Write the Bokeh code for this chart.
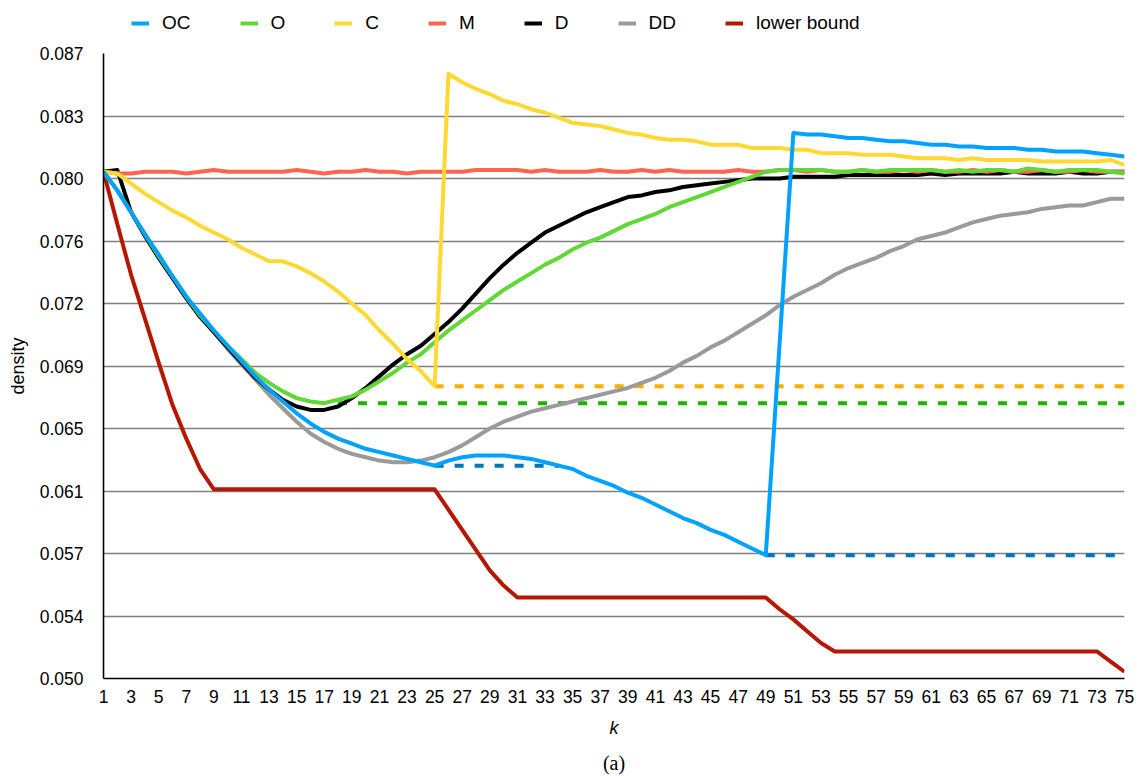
import math
from bokeh.plotting import figure
from bokeh.layouts import column
from bokeh.models import Range1d, FixedTicker, Legend, LegendItem, Label
from bokeh.embed import file_html
from bokeh.resources import INLINE

NaN = float("nan")

k = list(range(1, 76))

oc = [0.0800, 0.0789, 0.0776, 0.0763, 0.0751, 0.0738, 0.0726, 0.0716, 0.0706, 0.0697,
      0.0688, 0.0679, 0.0671, 0.0664, 0.0657, 0.0651, 0.0646, 0.0642, 0.0639, 0.0636,
      0.0634, 0.0632, 0.0630, 0.0628, 0.0626, 0.0629, 0.0631, 0.0632, 0.0632, 0.0632,
      0.0631, 0.0630, 0.0628, 0.0626, 0.0624, 0.0620, 0.0617, 0.0614, 0.0610, 0.0607,
      0.0603, 0.0599, 0.0595, 0.0592, 0.0588, 0.0585, 0.0581, 0.0577, 0.0573, 0.0698,
      0.0823, 0.0822, 0.0822, 0.0821, 0.0820, 0.0820, 0.0819, 0.0818, 0.0818, 0.0817,
      0.0816, 0.0816, 0.0815, 0.0815, 0.0814, 0.0814, 0.0814, 0.0813, 0.0813, 0.0812,
      0.0812, 0.0812, 0.0811, 0.0810, 0.0809]

o = [0.0800, 0.0789, 0.0776, 0.0763, 0.0750, 0.0738, 0.0726, 0.0715, 0.0706, 0.0697,
     0.0689, 0.0681, 0.0675, 0.0670, 0.0666, 0.0664, 0.0663, 0.0665, 0.0667, 0.0671,
     0.0676, 0.0681, 0.0687, 0.0692, 0.0699, 0.0706, 0.0712, 0.0718, 0.0724, 0.0730,
     0.0735, 0.0740, 0.0745, 0.0749, 0.0754, 0.0758, 0.0761, 0.0765, 0.0769, 0.0772,
     0.0775, 0.0779, 0.0782, 0.0785, 0.0788, 0.0791, 0.0794, 0.0797, 0.0800, 0.0801,
     0.0801, 0.0801, 0.0801, 0.0800, 0.0800, 0.0801, 0.0800, 0.0801, 0.0801, 0.0801,
     0.0801, 0.0800, 0.0801, 0.0800, 0.0801, 0.0801, 0.0800, 0.0802, 0.0801, 0.0800,
     0.0801, 0.0801, 0.0801, 0.0800, 0.0799]

c = [0.0800, 0.0799, 0.0793, 0.0787, 0.0782, 0.0777, 0.0773, 0.0768, 0.0764, 0.0760,
     0.0755, 0.0751, 0.0747, 0.0747, 0.0744, 0.0740, 0.0735, 0.0729, 0.0722, 0.0715,
     0.0706, 0.0698, 0.0689, 0.0682, 0.0673, 0.0858, 0.0853, 0.0849, 0.0846, 0.0842,
     0.0840, 0.0837, 0.0835, 0.0832, 0.0829, 0.0828, 0.0827, 0.0825, 0.0823, 0.0822,
     0.0820, 0.0819, 0.0819, 0.0818, 0.0816, 0.0816, 0.0816, 0.0814, 0.0814, 0.0814,
     0.0813, 0.0813, 0.0811, 0.0811, 0.0811, 0.0810, 0.0810, 0.0810, 0.0809, 0.0808,
     0.0808, 0.0808, 0.0807, 0.0808, 0.0807, 0.0807, 0.0807, 0.0807, 0.0806, 0.0806,
     0.0806, 0.0806, 0.0806, 0.0807, 0.0804]

m = [0.0800, 0.0799, 0.0799, 0.0800, 0.0800, 0.0800, 0.0799, 0.0800, 0.0801, 0.0800,
     0.0800, 0.0800, 0.0800, 0.0800, 0.0801, 0.0800, 0.0799, 0.0800, 0.0800, 0.0801,
     0.0800, 0.0800, 0.0799, 0.0800, 0.0800, 0.0800, 0.0800, 0.0801, 0.0801, 0.0801,
     0.0801, 0.0800, 0.0801, 0.0800, 0.0800, 0.0800, 0.0801, 0.0800, 0.0800, 0.0801,
     0.0800, 0.0801, 0.0800, 0.0800, 0.0800, 0.0800, 0.0801, 0.0800, 0.0800, 0.0801,
     0.0801, 0.0800, 0.0801, 0.0800, 0.0800, 0.0801, 0.0800, 0.0800, 0.0801, 0.0800,
     0.0801, 0.0800, 0.0800, 0.0801, 0.0800, 0.0801, 0.0800, 0.0800, 0.0801, 0.0800,
     0.0800, 0.0801, 0.0800, 0.0800, 0.0800]

d = [0.0800, 0.0801, 0.0776, 0.0762, 0.0749, 0.0737, 0.0725, 0.0714, 0.0705, 0.0696,
     0.0687, 0.0678, 0.0671, 0.0665, 0.0661, 0.0659, 0.0659, 0.0661, 0.0666, 0.0672,
     0.0679, 0.0686, 0.0692, 0.0697, 0.0704, 0.0711, 0.0719, 0.0728, 0.0737, 0.0745,
     0.0752, 0.0758, 0.0764, 0.0768, 0.0772, 0.0776, 0.0779, 0.0782, 0.0785, 0.0786,
     0.0788, 0.0789, 0.0791, 0.0792, 0.0793, 0.0794, 0.0795, 0.0796, 0.0796, 0.0796,
     0.0797, 0.0797, 0.0797, 0.0797, 0.0798, 0.0798, 0.0798, 0.0798, 0.0798, 0.0798,
     0.0799, 0.0798, 0.0799, 0.0799, 0.0799, 0.0799, 0.0800, 0.0799, 0.0799, 0.0799,
     0.0800, 0.0799, 0.0799, 0.0800, 0.0800]

dd = [0.0800, 0.0789, 0.0776, 0.0763, 0.0750, 0.0738, 0.0726, 0.0715, 0.0705, 0.0695,
      0.0686, 0.0677, 0.0668, 0.0660, 0.0652, 0.0645, 0.0640, 0.0636, 0.0633, 0.0631,
      0.0629, 0.0628, 0.0628, 0.0629, 0.0631, 0.0634, 0.0638, 0.0643, 0.0648, 0.0652,
      0.0655, 0.0658, 0.0660, 0.0662, 0.0664, 0.0666, 0.0668, 0.0670, 0.0672, 0.0675,
      0.0678, 0.0682, 0.0687, 0.0691, 0.0696, 0.0700, 0.0705, 0.0710, 0.0715, 0.0721,
      0.0726, 0.0730, 0.0734, 0.0739, 0.0743, 0.0746, 0.0749, 0.0753, 0.0756, 0.0760,
      0.0762, 0.0764, 0.0767, 0.0770, 0.0772, 0.0774, 0.0775, 0.0776, 0.0778, 0.0779,
      0.0780, 0.0780, 0.0782, 0.0784, 0.0784]

lower_bound = [0.0800, 0.0769, 0.0739, 0.0713, 0.0687, 0.0662, 0.0642, 0.0624, 0.0612, 0.0612,
               0.0612, 0.0612, 0.0612, 0.0612, 0.0612, 0.0612, 0.0612, 0.0612, 0.0612, 0.0612,
               0.0612, 0.0612, 0.0612, 0.0612, 0.0612, 0.0600, 0.0588, 0.0576, 0.0564, 0.0555,
               0.0548, 0.0548, 0.0548, 0.0548, 0.0548, 0.0548, 0.0548, 0.0548, 0.0548, 0.0548,
               0.0548, 0.0548, 0.0548, 0.0548, 0.0548, 0.0548, 0.0548, 0.0548, 0.0548, 0.0541,
               0.0535, 0.0528, 0.0521, 0.0516, 0.0516, 0.0516, 0.0516, 0.0516, 0.0516, 0.0516,
               0.0516, 0.0516, 0.0516, 0.0516, 0.0516, 0.0516, 0.0516, 0.0516, 0.0516, 0.0516,
               0.0516, 0.0516, 0.0516, 0.0510, 0.0504]

# best-so-far (dashed) series; NaN where not drawn
oc_best = [NaN] * 24 + [0.0626] * 10 + [NaN] * 14 + [0.0573] * 27
o_best = [NaN] * 17 + [0.0663] * 58
c_best = [NaN] * 24 + [0.0673] * 51

series_names = ["OC", "O", "C", "M", "D", "DD", "lower bound"]
series_colors = ["#00A2FF", "#61D836", "#FFD932", "#FF644E", "#000000", "#9A9A9A", "#B51700"]
series_values = [oc, o, c, m, d, dd, lower_bound]

y_ticks = [0.050, 0.0537, 0.0574, 0.0611, 0.0648, 0.0685, 0.0722, 0.0759, 0.0796, 0.0833, 0.087]
y_tick_labels = ["0.050", "0.054", "0.057", "0.061", "0.065", "0.069", "0.072", "0.076",
                 "0.080", "0.083", "0.087"]
x_ticks = list(range(1, 76, 2))

FONT = "Liberation Sans"
W = 1136
BL, BR = 103, 12   # left/right borders shared by the three stacked strips

# ---------------- main chart ----------------
p = figure(width=W, height=700, output_backend="svg", toolbar_location=None,
           x_range=Range1d(1, 75), y_range=Range1d(0.050, 0.087),
           min_border_left=BL, min_border_right=BR, min_border_top=8, min_border_bottom=67)
p.outline_line_color = None
p.background_fill_color = "white"

p.xaxis.ticker = FixedTicker(ticks=x_ticks)
p.yaxis.ticker = FixedTicker(ticks=y_ticks)
p.yaxis.major_label_overrides = {t: s for t, s in zip(y_ticks, y_tick_labels)}
for ax in (p.xaxis[0], p.yaxis[0]):
    ax.axis_line_color = "black"
    ax.axis_line_width = 1.6
    ax.major_tick_line_color = None
    ax.minor_tick_line_color = None
    ax.major_tick_in = 0
    ax.major_tick_out = 0
    ax.minor_tick_in = 0
    ax.minor_tick_out = 0
    ax.major_label_text_font = FONT
    ax.major_label_text_font_size = "17.5px"
    ax.major_label_text_color = "black"
    ax.axis_label_text_font = FONT
    ax.axis_label_text_font_size = "18px"
    ax.axis_label_text_color = "black"

p.xaxis.axis_label = "k"
p.xaxis.axis_label_text_font_style = "italic"
p.xaxis.major_label_standoff = 11
p.xaxis.axis_label_standoff = 12
p.yaxis.axis_label = "density"
p.yaxis.axis_label_text_font_style = "normal"
p.yaxis.major_label_standoff = 20
p.yaxis.axis_label_standoff = 9

p.xgrid.grid_line_color = None
p.ygrid.grid_line_color = "#7f7f7f"
p.ygrid.grid_line_width = 1.3

# dashed "best so far" lines (drawn underneath)
p.line(k, oc_best, line_color="#0076BA", line_width=4, line_dash="9 11")
p.line(k, o_best, line_color="#1DB100", line_width=4, line_dash="9 11")
p.line(k, c_best, line_color="#FEAE00", line_width=4, line_dash="9 11")

kw = dict(line_width=4, line_join="round")
# draw order: lower bound, DD, D, M, O, C, OC (OC on top)
for idx in [6, 5, 4, 3, 1, 2, 0]:
    p.line(k, series_values[idx], line_color=series_colors[idx], **kw)

# ---------------- legend strip (above) ----------------
lg = figure(width=W, height=45, output_backend="svg", toolbar_location=None,
            x_axis_type=None, y_axis_type=None,
            min_border_left=BL, min_border_right=BR, min_border_top=0, min_border_bottom=0,
            x_range=Range1d(-20, -10), y_range=Range1d(-20, -10))
lg.outline_line_color = None
items = []
for name, col, vals in zip(series_names, series_colors, series_values):
    # same series; this strip's ranges keep them out of view, only the legend shows
    r = lg.line(k, vals, line_color=col, line_width=4)
    items.append(LegendItem(label=name, renderers=[r]))

legend = Legend(items=items, orientation="horizontal", location=(28, 11))
legend.glyph_width = 18
legend.glyph_height = 20
legend.label_height = 20
legend.label_width = 0
legend.label_standoff = 13
legend.spacing = 49
legend.padding = 6
legend.margin = 0
legend.border_line_color = None
legend.background_fill_alpha = 0
legend.label_text_font = FONT
legend.label_text_font_size = "19px"
legend.label_text_color = "black"
lg.add_layout(legend, "center")

# ---------------- caption strip (below) ----------------
cap = figure(width=W, height=31, output_backend="svg", toolbar_location=None,
             x_axis_type=None, y_axis_type=None,
             min_border_left=BL, min_border_right=BR, min_border_top=0, min_border_bottom=0,
             x_range=Range1d(1, 75), y_range=Range1d(0, 1))
cap.outline_line_color = None
cap.add_layout(Label(x=38, y=14, x_units="data", y_units="screen", text="(a)",
                     text_align="center", text_baseline="middle",
                     text_font="Liberation Serif", text_font_size="20px",
                     text_color="black"))

layout = column(lg, p, cap, spacing=0)
open("out.html", "w").write(file_html(layout, INLINE))
